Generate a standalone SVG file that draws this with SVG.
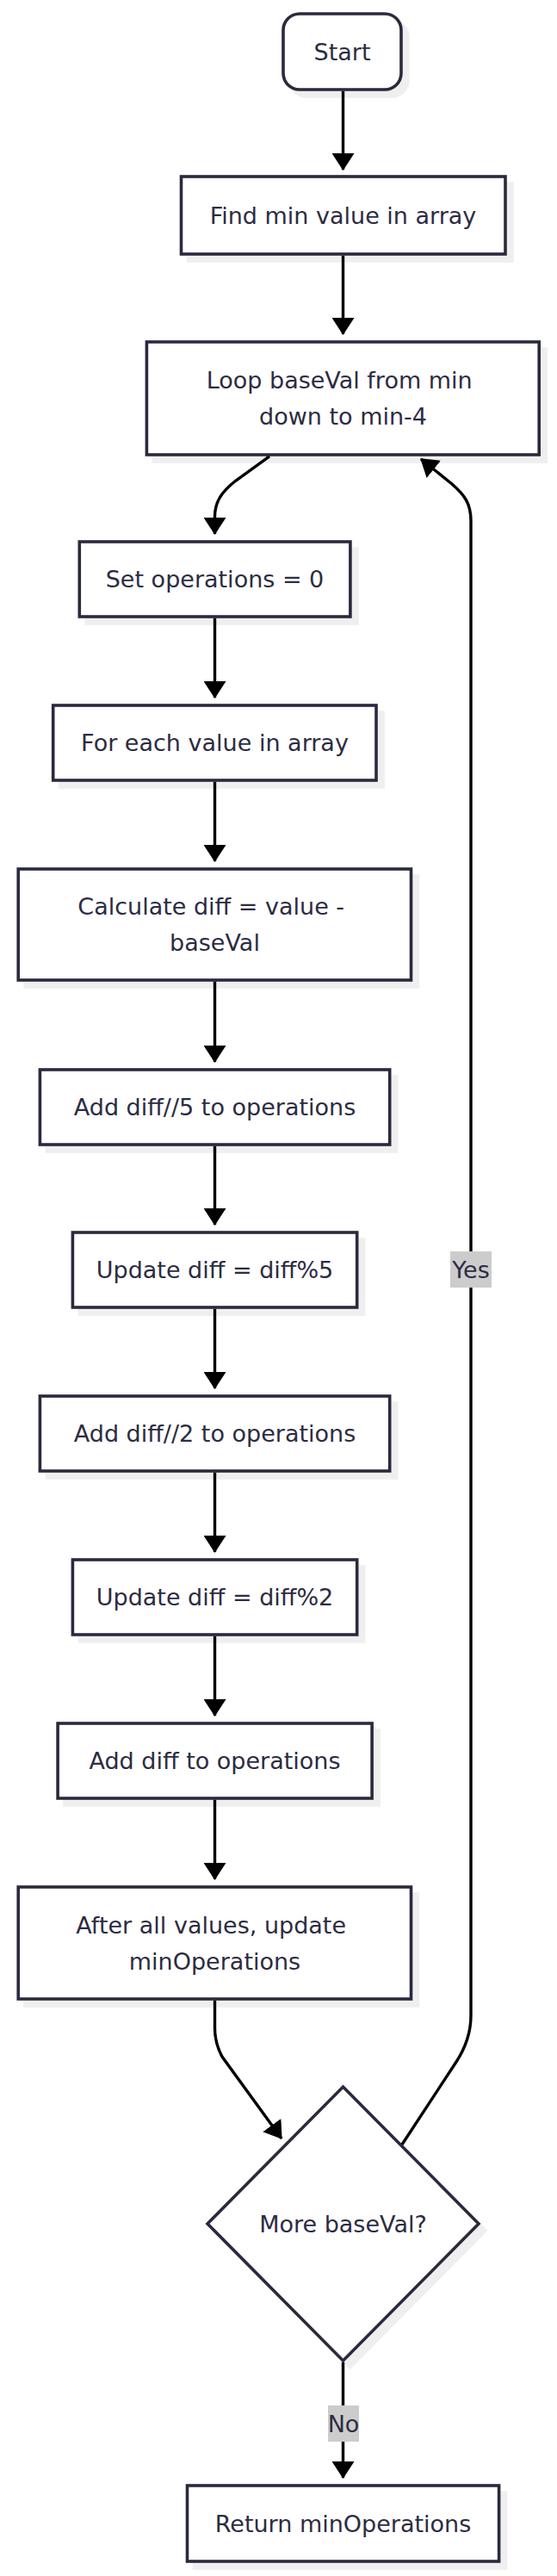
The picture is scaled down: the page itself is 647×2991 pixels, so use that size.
<svg xmlns="http://www.w3.org/2000/svg" width="647" height="2991" viewBox="0 0 647 2991">
<style>
.bg{fill:#ffffff}
.sh{fill:#efefef;stroke:#efefef;stroke-width:3.6}
.nd{fill:#ffffff;stroke:#2a2a3e;stroke-width:3.6}
.tx{font-family:"DejaVu Sans",sans-serif;font-size:27px;fill:#2c2c42;text-anchor:middle;dominant-baseline:central}
.ed{fill:none;stroke:#000000;stroke-width:3.4}
.lb{fill:#cccccc}
</style>
<defs>
<marker id="ah" viewBox="0 0 20 26" refX="19" refY="13" markerWidth="20" markerHeight="26" markerUnits="userSpaceOnUse" orient="auto">
<path d="M0,0 L20,13 L0,26 Z" fill="#000000"/>
</marker>
</defs>
<rect class="bg" x="0" y="0" width="647" height="2991"/>

<g id="start">
<rect class="sh" x="337" y="24" width="137" height="88" rx="19"/>
<rect class="nd" x="329" y="16" width="137" height="88" rx="19"/>
<text class="tx" x="397.5" y="60">Start</text>
</g>
<g id="find-min">
<rect class="sh" x="218.5" y="213" width="376.5" height="90"/>
<rect class="nd" x="210.5" y="205" width="376.5" height="90"/>
<text class="tx" x="398.5" y="250">Find min value in array</text>
</g>
<g id="loop-baseval">
<rect class="sh" x="178.4" y="405" width="455.8" height="131"/>
<rect class="nd" x="170.4" y="397" width="455.8" height="131"/>
<text class="tx" x="394.2" y="441.5">Loop baseVal from min</text>
<text class="tx" x="398.5" y="483.5">down to min-4</text>
</g>
<g id="set-ops">
<rect class="sh" x="100.3" y="637" width="314.6" height="87"/>
<rect class="nd" x="92.3" y="629" width="314.6" height="87"/>
<text class="tx" x="249.5" y="672.5">Set operations = 0</text>
</g>
<g id="for-each">
<rect class="sh" x="69.7" y="827" width="375.3" height="87"/>
<rect class="nd" x="61.7" y="819" width="375.3" height="87"/>
<text class="tx" x="249.5" y="862.5">For each value in array</text>
</g>
<g id="calc-diff">
<rect class="sh" x="29.2" y="1017" width="456.3" height="129"/>
<rect class="nd" x="21.2" y="1009" width="456.3" height="129"/>
<text class="tx" x="245.2" y="1052.5">Calculate diff = value -</text>
<text class="tx" x="249.5" y="1094.5">baseVal</text>
</g>
<g id="add-div5">
<rect class="sh" x="54.4" y="1250" width="406.3" height="87"/>
<rect class="nd" x="46.4" y="1242" width="406.3" height="87"/>
<text class="tx" x="249.5" y="1285.5">Add diff//5 to operations</text>
</g>
<g id="upd-mod5">
<rect class="sh" x="92.4" y="1439" width="330.3" height="87"/>
<rect class="nd" x="84.4" y="1431" width="330.3" height="87"/>
<text class="tx" x="249.5" y="1474.5">Update diff = diff%5</text>
</g>
<g id="add-div2">
<rect class="sh" x="54.4" y="1629" width="406.3" height="87"/>
<rect class="nd" x="46.4" y="1621" width="406.3" height="87"/>
<text class="tx" x="249.5" y="1664.5">Add diff//2 to operations</text>
</g>
<g id="upd-mod2">
<rect class="sh" x="92.4" y="1819" width="330.3" height="87"/>
<rect class="nd" x="84.4" y="1811" width="330.3" height="87"/>
<text class="tx" x="249.5" y="1854.5">Update diff = diff%2</text>
</g>
<g id="add-diff">
<rect class="sh" x="75.1" y="2009" width="365" height="87"/>
<rect class="nd" x="67.1" y="2001" width="365" height="87"/>
<text class="tx" x="249.5" y="2044.5">Add diff to operations</text>
</g>
<g id="after-all">
<rect class="sh" x="29.2" y="2199" width="456.3" height="130"/>
<rect class="nd" x="21.2" y="2191" width="456.3" height="130"/>
<text class="tx" x="245.2" y="2235">After all values, update</text>
<text class="tx" x="249.5" y="2277">minOperations</text>
</g>
<g id="more-baseval">
<polygon class="sh" points="406.5,2431 564,2590 406.5,2749 249,2590"/>
<polygon class="nd" points="398.5,2423 556,2582 398.5,2741 241,2582"/>
<text class="tx" x="398.5" y="2582">More baseVal?</text>
</g>
<g id="return-min">
<rect class="sh" x="225.5" y="2894" width="362.1" height="88"/>
<rect class="nd" x="217.5" y="2886" width="362.1" height="88"/>
<text class="tx" x="398.5" y="2930">Return minOperations</text>
</g>

<g id="edges">
<path class="ed" d="M398.5,105.8 L398.5,197" marker-end="url(#ah)"/>
<path class="ed" d="M398.5,296.8 L398.5,388" marker-end="url(#ah)"/>
<path class="ed" d="M313,529.8 L274,558 C256,572 249.5,584 249.5,600 L249.5,620" marker-end="url(#ah)"/>
<path class="ed" d="M249.5,717.8 L249.5,810" marker-end="url(#ah)"/>
<path class="ed" d="M249.5,907.8 L249.5,1000" marker-end="url(#ah)"/>
<path class="ed" d="M249.5,1139.8 L249.5,1233" marker-end="url(#ah)"/>
<path class="ed" d="M249.5,1330.8 L249.5,1422" marker-end="url(#ah)"/>
<path class="ed" d="M249.5,1519.8 L249.5,1612" marker-end="url(#ah)"/>
<path class="ed" d="M249.5,1709.8 L249.5,1802" marker-end="url(#ah)"/>
<path class="ed" d="M249.5,1899.8 L249.5,1992" marker-end="url(#ah)"/>
<path class="ed" d="M249.5,2089.8 L249.5,2182" marker-end="url(#ah)"/>
<path class="ed" d="M249.5,2322.8 L249.5,2355 Q249.5,2372 258,2388 L327,2483" marker-end="url(#ah)"/>
<path class="ed" d="M467,2490 L530,2394 Q547,2368 547,2340 L547,605 C547,585 540,575 525,562 L489,533" marker-end="url(#ah)"/>
<path class="ed" d="M398.5,2742.8 L398.5,2877" marker-end="url(#ah)"/>
<g id="label-yes">
<rect class="lb" x="523" y="1453" width="48" height="42"/>
<text class="tx" x="547" y="1474">Yes</text>
</g>
<g id="label-no">
<rect class="lb" x="381" y="2793" width="36" height="42"/>
<text class="tx" x="399" y="2814">No</text>
</g>
</g>
</svg>
